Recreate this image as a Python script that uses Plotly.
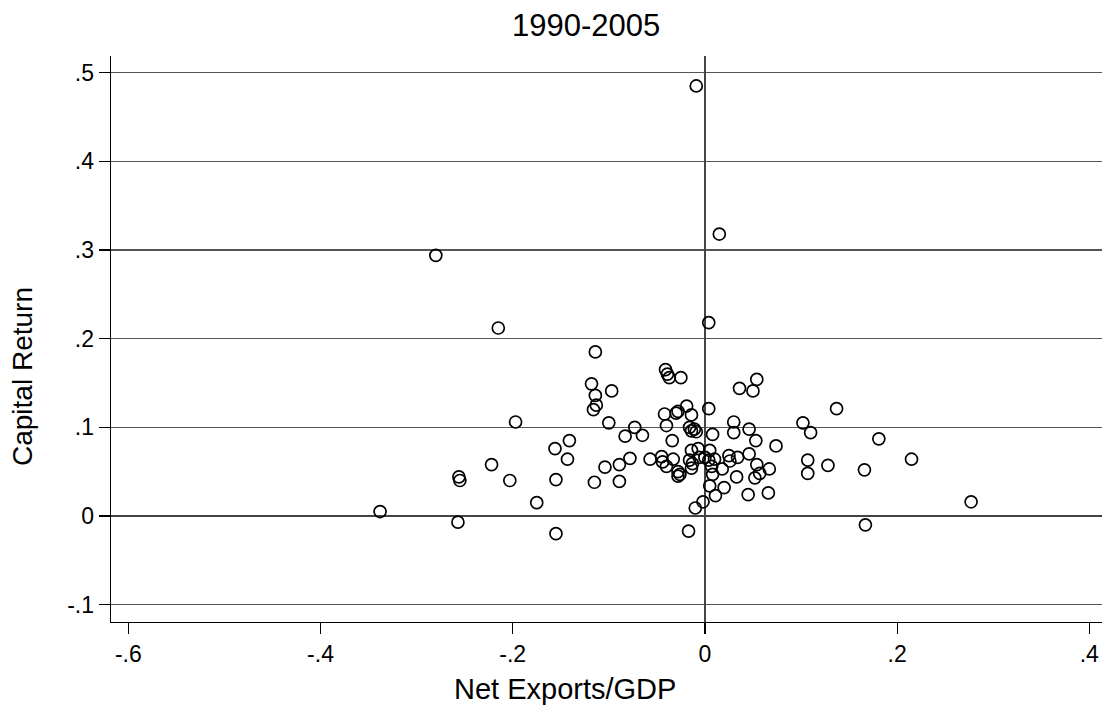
import plotly.graph_objects as go

# ---- data ----
net_exports_gdp = [
    -0.009, 0.015, -0.280, 0.004, -0.215, -0.114, -0.041, -0.039, -0.037, -0.025,
    0.054, -0.118, 0.036, -0.097, 0.050, -0.114, -0.113, -0.019, 0.004, -0.116,
    0.137, -0.028, -0.030, -0.042, -0.014, -0.197, 0.030, 0.102, -0.100, -0.040,
    -0.073, -0.016, -0.011, 0.046, -0.014, -0.009, 0.030, 0.110, 0.008, -0.065,
    -0.083, 0.181, -0.141, -0.034, 0.053, 0.074, -0.156, -0.007, 0.005, -0.014,
    0.046, -0.045, 0.025, -0.006, 0.000, 0.034, -0.078, -0.143, -0.057, -0.033,
    0.010, 0.215, 0.107, -0.016, 0.004, -0.044, 0.026, -0.013, -0.222, -0.089,
    0.054, 0.128, -0.104, -0.040, 0.007, -0.014, 0.018, 0.067, 0.166, -0.028,
    -0.026, 0.008, 0.057, 0.107, -0.028, -0.256, 0.033, 0.052, -0.155, -0.255,
    -0.203, -0.089, -0.115, 0.005, 0.020, 0.066, 0.045, 0.011, -0.175, -0.002,
    0.277, -0.010, -0.338, -0.257, 0.167, -0.017, -0.155,
]
capital_return = [
    0.485, 0.318, 0.294, 0.218, 0.212, 0.185, 0.165, 0.160, 0.156, 0.156,
    0.154, 0.149, 0.144, 0.141, 0.141, 0.136, 0.125, 0.124, 0.121, 0.120,
    0.121, 0.118, 0.116, 0.115, 0.114, 0.106, 0.106, 0.105, 0.105, 0.102,
    0.100, 0.100, 0.098, 0.098, 0.096, 0.095, 0.094, 0.094, 0.092, 0.091,
    0.090, 0.087, 0.085, 0.085, 0.085, 0.079, 0.076, 0.076, 0.074, 0.074,
    0.070, 0.067, 0.068, 0.066, 0.066, 0.066, 0.065, 0.064, 0.064, 0.064,
    0.064, 0.064, 0.063, 0.063, 0.063, 0.061, 0.062, 0.059, 0.058, 0.058,
    0.058, 0.057, 0.055, 0.056, 0.056, 0.054, 0.053, 0.053, 0.052, 0.050,
    0.047, 0.047, 0.048, 0.048, 0.045, 0.044, 0.044, 0.043, 0.041, 0.040,
    0.040, 0.039, 0.038, 0.034, 0.032, 0.026, 0.024, 0.023, 0.015, 0.016,
    0.016, 0.009, 0.005, -0.007, -0.010, -0.017, -0.020,
]

x_tick_vals = [-0.6, -0.4, -0.2, 0, 0.2, 0.4]
x_tick_text = ["-.6", "-.4", "-.2", "0", ".2", ".4"]
y_tick_vals = [-0.1, 0, 0.1, 0.2, 0.3, 0.4, 0.5]
y_tick_text = ["-.1", "0", ".1", ".2", ".3", ".4", ".5"]

title_text = "1990-2005"
x_title = "Net Exports/GDP"
y_title = "Capital Return"

FONT = "Liberation Sans, Arial, sans-serif"

fig = go.Figure()
fig.add_trace(go.Scatter(
    x=net_exports_gdp, y=capital_return, mode="markers",
    marker=dict(symbol="circle-open", size=12, color="black",
                line=dict(width=1.7, color="black")),
    showlegend=False, hoverinfo="skip", cliponaxis=False,
))

fig.update_layout(
    width=1102, height=708,
    margin=dict(l=111, r=0, t=56, b=86, autoexpand=False),
    paper_bgcolor="white", plot_bgcolor="white",
    font=dict(family=FONT, color="black"),
    showlegend=False,
    annotations=[
        dict(text=title_text, xref="paper", yref="paper", x=0.479, y=1,
             yshift=31, xanchor="center", yanchor="middle", showarrow=False,
             font=dict(size=31, family=FONT, color="black")),
        dict(text=x_title, xref="paper", yref="paper", x=0.458, y=0,
             yshift=-67, xanchor="center", yanchor="middle", showarrow=False,
             font=dict(size=29, family=FONT, color="black")),
        dict(text=y_title, xref="paper", yref="paper", x=0, y=0.5,
             xshift=-89, yshift=-38, textangle=-90, xanchor="center", yanchor="middle",
             showarrow=False, font=dict(size=28, family=FONT, color="black")),
    ],
)

fig.update_xaxes(
    range=[-0.618, 0.4132], tickvals=x_tick_vals, ticktext=x_tick_text,
    automargin=False,
    showgrid=False, zeroline=True, zerolinecolor="#444", zerolinewidth=1.6,
    showline=True, linecolor="black", linewidth=1.4,
    ticks="outside", ticklen=11, tickwidth=1.2, tickcolor="black",
    tickfont=dict(size=23, family=FONT, color="black"),
)
fig.update_yaxes(
    range=[-0.1196, 0.5188], tickvals=y_tick_vals, ticktext=y_tick_text,
    automargin=False,
    showgrid=True, gridcolor="#555", gridwidth=1.2,
    zeroline=True, zerolinecolor="#444", zerolinewidth=1.4,
    showline=True, linecolor="black", linewidth=1.4,
    ticks="outside", ticklen=11, tickwidth=1.2, tickcolor="black",
    tickfont=dict(size=23, family=FONT, color="black"),
)

fig.write_html(
    "out.html",
    config={"displayModeBar": False, "staticPlot": True},
    post_script="document.body.style.margin='0';document.body.style.overflow='hidden';",
)
